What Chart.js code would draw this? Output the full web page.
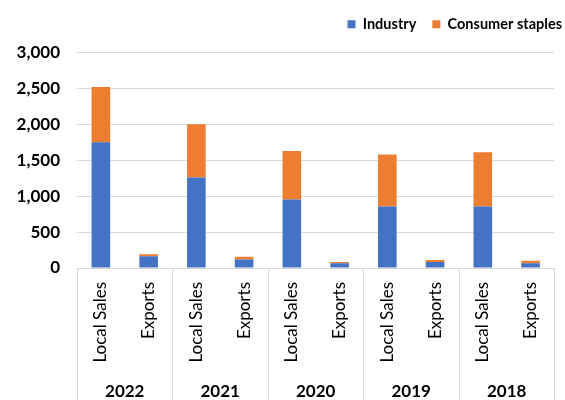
<!DOCTYPE html>
<html>
<head>
<meta charset="utf-8">
<script src="https://cdn.jsdelivr.net/npm/chart.js@4/dist/chart.umd.min.js"></script>
<style>
  html, body { margin: 0; padding: 0; background: #fff; }
  #wrap { width: 565px; height: 400px; }
</style>
</head>
<body>
<div id="wrap"><canvas id="chartVentas"></canvas></div>
<script>
const years = ['2022', '2021', '2020', '2019', '2018'];
const kinds = ['Local Sales', 'Exports'];
const industry = [1750, 165, 1260, 120, 955, 65, 855, 85, 855, 65];
const consumerStaples = [770, 25, 740, 35, 675, 20, 725, 25, 755, 35];
const yTicks = [0, 500, 1000, 1500, 2000, 2500, 3000];

const labels = [];
years.forEach(() => kinds.forEach(k => labels.push(k)));

const gridColor = '#d9d9d9';
const fontFamily = 'Lato, "Open Sans", sans-serif';

// move the legend up and to the right edge, like the original
const legendNudge = {
    id: 'legendNudge',
    afterLayout(chart) {
        const lg = chart.legend;
        lg.top -= 11; lg.bottom -= 11;
        lg.left += 14; lg.right += 14;
    }
};

// separators and year labels under the category axis
const groupLines = {
    id: 'groupLines',
    afterDraw(chart) {
        const ctx = chart.ctx;
        const x = chart.scales.x;
        const step = x.getPixelForValue(1) - x.getPixelForValue(0);
        const top = chart.chartArea.bottom;
        const bottom = chart.height;
        ctx.save();
        ctx.strokeStyle = gridColor;
        ctx.lineWidth = 1;
        for (let g = 0; g <= years.length; g++) {
            let px = Math.round(x.getPixelForValue(g * kinds.length) - step / 2) + 0.5;
            if (g === years.length) px = Math.min(px, chart.width - 0.5);
            ctx.beginPath();
            ctx.moveTo(px, top);
            ctx.lineTo(px, bottom);
            ctx.stroke();
        }
        ctx.fillStyle = '#000';
        ctx.font = 'bold 17px ' + fontFamily;
        ctx.textAlign = 'center';
        ctx.textBaseline = 'middle';
        years.forEach((yr, g) => {
            const cx = (x.getPixelForValue(g * kinds.length) + x.getPixelForValue(g * kinds.length + 1)) / 2;
            ctx.fillText(yr, cx, 392);
        });
        ctx.restore();
    }
};

const chartVentas = new Chart(document.getElementById('chartVentas').getContext('2d'), {
    type: 'bar',
    data: {
        labels: labels,
        datasets: [
            {
                label: 'Industry',
                data: industry,
                backgroundColor: '#4472c4',
                barPercentage: 0.39,
                categoryPercentage: 1
            },
            {
                label: 'Consumer staples',
                data: consumerStaples,
                backgroundColor: '#ed7d31',
                barPercentage: 0.39,
                categoryPercentage: 1
            }
        ]
    },
    options: {
        responsive: true,
        maintainAspectRatio: false,
        animation: false,
        layout: { padding: { top: 12, right: 1, bottom: 0, left: 0 } },
        plugins: {
            legend: {
                position: 'top',
                align: 'end',
                labels: {
                    boxWidth: 8,
                    boxHeight: 8,
                    padding: 16,
                    color: '#000',
                    font: { family: fontFamily, size: 14.5, weight: 'bold' }
                }
            },
            tooltip: { enabled: false }
        },
        scales: {
            x: {
                stacked: true,
                grid: { display: false, drawTicks: false },
                border: { display: true, color: gridColor },
                ticks: {
                    color: '#000',
                    minRotation: 90,
                    maxRotation: 90,
                    autoSkip: false,
                    padding: 14,
                    font: { family: fontFamily, size: 17 }
                },
                afterFit: s => { s.height = 132; }
            },
            y: {
                stacked: true,
                min: 0,
                max: 3000,
                afterBuildTicks: s => { s.ticks = yTicks.map(v => ({ value: v })); },
                grid: { color: gridColor, drawTicks: false },
                border: { display: false },
                ticks: {
                    color: '#000',
                    padding: 17,
                    font: { family: fontFamily, size: 17, weight: 'bold' },
                    callback: v => v.toLocaleString('en-US')
                },
                afterFit: s => { s.width = 77; }
            }
        }
    },
    plugins: [legendNudge, groupLines]
});
</script>
</body>
</html>
